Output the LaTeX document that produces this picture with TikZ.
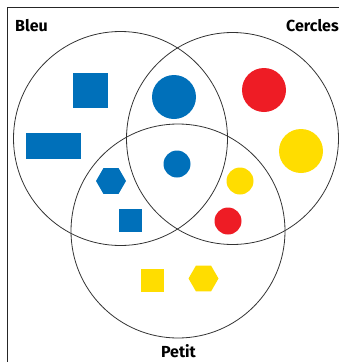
\documentclass[tikz,border=0pt]{standalone}
\usepackage{fontspec}
\setmainfont{Fira Sans}
\usetikzlibrary{shapes.geometric}
\definecolor{cblue}{HTML}{0070BA}
\definecolor{cred}{HTML}{EE1C25}
\definecolor{cyellow}{HTML}{FFDD00}
\begin{document}
\begin{tikzpicture}[x=1pt,y=-1pt,
  setc/.style={draw=black!80,line width=0.8pt,circle,inner sep=0pt,minimum size=#1},
  lab/.style={font=\bfseries\fontsize{16}{19}\selectfont,inner sep=0pt},
  sq/.style={fill=#1,rectangle,inner sep=0pt},
  dot/.style={fill=#1,circle,inner sep=0pt},
  hex/.style={fill=#1,regular polygon,regular polygon sides=6,shape border rotate=0,inner sep=0pt,minimum size=30pt}]
\useasboundingbox (0,0) rectangle (339,362);
\draw[line width=0.9pt,black!85] (7,362) -- (7,7) -- (339,7);
% sets
\node[setc=214pt] (bleu) at (120.5,138.5) {};
\node[setc=212pt] (cercles) at (232.5,138.5) {};
\node[setc=214pt] (petit) at (178,231) {};
% labels
\node[lab,anchor=west] (lbleu) at (15,26) {Bleu};
\node[lab,anchor=west] (lcercles) at (286,26) {Cercles};
\node[lab] (lpetit) at (178.5,351) {Petit};
% shapes
\node[sq=cblue,minimum width=35pt,minimum height=35pt] (s1) at (90.5,90) {};
\node[sq=cblue,minimum width=55pt,minimum height=26pt] (r1) at (53.5,146) {};
\node[dot=cblue,minimum size=44pt] (c1) at (174,97) {};
\node[dot=cred,minimum size=44pt] (c2) at (264,90) {};
\node[dot=cyellow,minimum size=44pt] (c3) at (301,151) {};
\node[dot=cblue,minimum size=27pt] (c4) at (177,164) {};
\node[hex=cblue] (h1) at (111,181) {};
\node[sq=cblue,minimum width=23pt,minimum height=23pt] (s2) at (130,220.5) {};
\node[dot=cyellow,minimum size=27pt] (c5) at (240,181) {};
\node[dot=cred,minimum size=27pt] (c6) at (228,221) {};
\node[sq=cyellow,minimum width=23pt,minimum height=23pt] (s3) at (152.5,280) {};
\node[hex=cyellow] (h2) at (203.5,278.5) {};
\end{tikzpicture}
\end{document}
